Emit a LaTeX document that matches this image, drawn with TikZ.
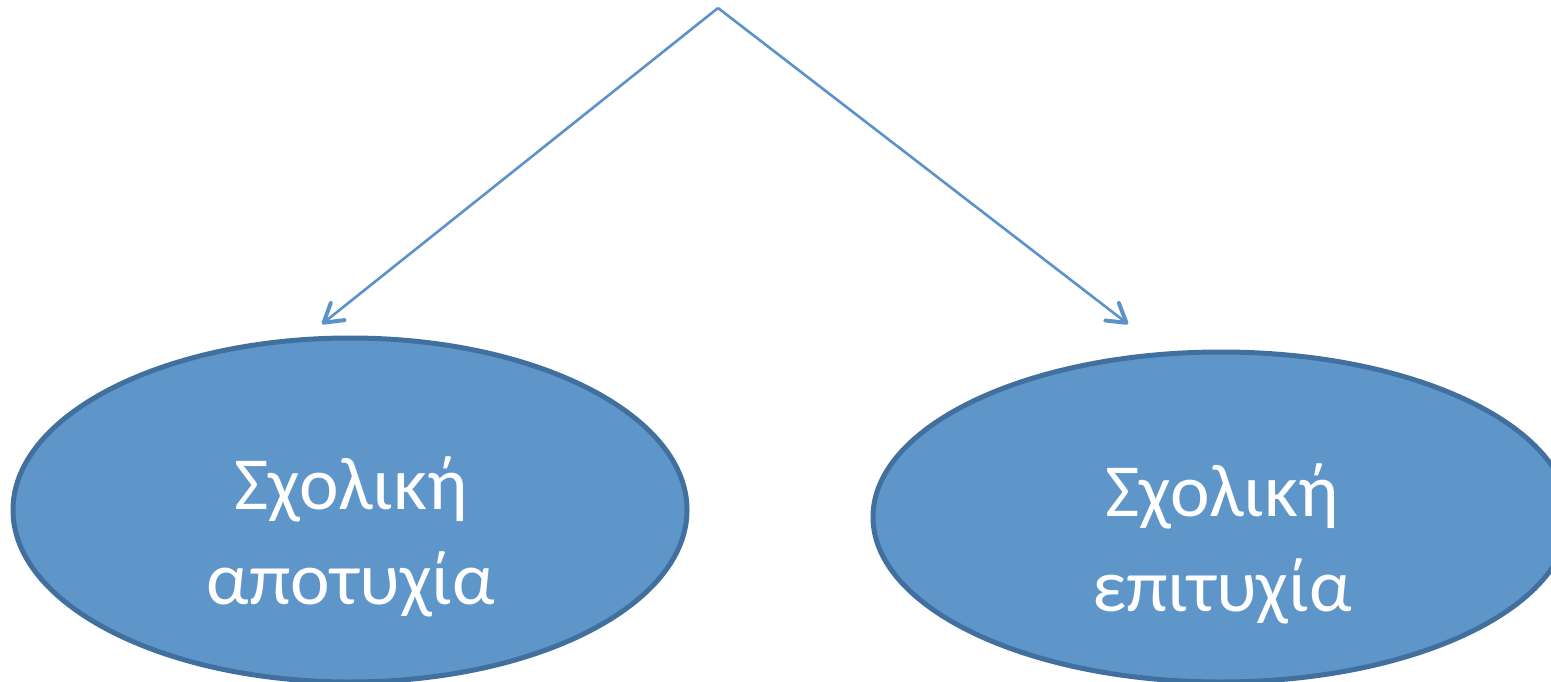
\documentclass[tikz,border=0pt]{standalone}
\usepackage{fontspec}
\setmainfont{Carlito}
\usetikzlibrary{arrows.meta,shapes.geometric}
\definecolor{efill}{HTML}{5F96C9}
\definecolor{edraw}{HTML}{42709E}
\definecolor{arrowc}{HTML}{5B93C8}
\tikzset{
  oval/.style={ellipse, fill=efill, draw=edraw, line width=5pt, inner sep=0pt},
  label/.style={text=white, font=\fontsize{75}{95}\selectfont, align=center},
  conn/.style={draw=arrowc, line width=2.6pt,
    -{Straight Barb[length=18pt, width=22pt, line width=4pt, round]}}
}
\begin{document}
\begin{tikzpicture}[x=1pt,y=-1pt]
\useasboundingbox (0,0) rectangle (1551,682);
\begin{scope}
\clip (0,0) rectangle (1551,682);
\node[oval, minimum width=674pt, minimum height=344pt] (fail) at (350,510) {};
\node[oval, minimum width=696pt, minimum height=330pt] (succ) at (1221,517) {};
\end{scope}
\node[label] (failt) at (351,537) {Σχολική\\αποτυχία};
\node[label] (succt) at (1222,544) {Σχολική\\επιτυχία};
\coordinate (top) at (718,8);
\coordinate (tl) at (322,324);
\coordinate (tr) at (1128,324);
\draw[conn] (top) -- (tl);
\draw[conn] (top) -- (tr);
\end{tikzpicture}
\end{document}
